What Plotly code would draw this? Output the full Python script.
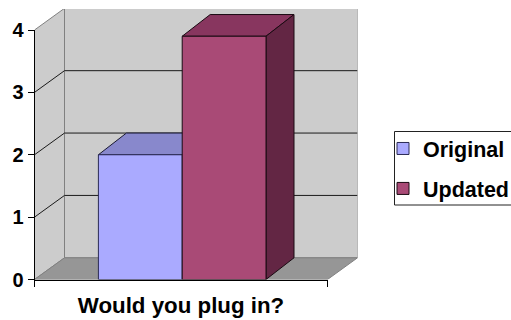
import plotly.graph_objects as go

categories = ["Would you plug in?"]
original = [2.0]
updated = [3.9]
y_ticks = [0, 1, 2, 3, 4]

W, H = 511, 320
FONT = "Liberation Sans"
# Front plane of the chart in page pixels
LEFT, RIGHT, BOTTOM, TOP = 34.5, 327.5, 279.5, 30.0
PX_X = RIGHT - LEFT            # pixels per category
PX_Y = (BOTTOM - TOP) / 4      # pixels per value unit
# Depth of the box and of the bars, in axis units
WALL_DX, WALL_DY = 30 / PX_X, 21.7 / PX_Y
BAR_DX, BAR_DY = 28 / PX_X, 21.7 / PX_Y
X0, X1 = -0.5, 0.5
BAR_W = 83.8 / PX_X
BAR_L = (98.4 - LEFT) / PX_X - 0.5
BAR_M = BAR_L + BAR_W
BAR_R = BAR_M + BAR_W
YMAX = max(y_ticks)


def poly(xs, ys, fill=None, line="#000000", width=1):
    return go.Scatter(
        x=xs, y=ys, mode="lines", hoverinfo="skip", showlegend=False,
        fill="toself" if fill else None, fillcolor=fill,
        line=dict(color=line, width=width), xaxis="x", yaxis="y",
    )


def box_top(left, right, value, fill, edge):
    return poly(
        [left, right, right + BAR_DX, left + BAR_DX, left],
        [value, value, value + BAR_DY, value + BAR_DY, value],
        fill, edge,
    )


def box_side(right, value, fill, edge):
    return poly(
        [right, right + BAR_DX, right + BAR_DX, right, right],
        [0, BAR_DY, value + BAR_DY, value, 0],
        fill, edge,
    )


traces = [
    # Side wall, back wall and floor
    poly([X0, X0 + WALL_DX, X0 + WALL_DX, X0, X0],
         [0, WALL_DY, YMAX + WALL_DY, YMAX, 0], "#CCCCCC", "#808080"),
    poly([X0 + WALL_DX, X1 + WALL_DX, X1 + WALL_DX, X0 + WALL_DX, X0 + WALL_DX],
         [WALL_DY, WALL_DY, YMAX + WALL_DY, YMAX + WALL_DY, WALL_DY], "#CCCCCC", "#808080"),
    poly([X0, X1, X1 + WALL_DX, X0 + WALL_DX, X0],
         [0, 0, WALL_DY, WALL_DY, 0], "#969696", "#808080"),
]

# Gridlines wrap from the side wall across the back wall
for tick in y_ticks[1:-1]:
    traces.append(poly([X0, X0 + WALL_DX, X1 + WALL_DX],
                       [tick, tick + WALL_DY, tick + WALL_DY], None, "#1A1A1A"))

traces += [
    box_top(BAR_L, BAR_M, original[0], "#8888CC", "#1A1A33"),
    box_top(BAR_M, BAR_R, updated[0], "#88365F", "#1A0A12"),
    box_side(BAR_R, updated[0], "#632644", "#1A0A12"),
]

# Front faces are real bars on the visible axes, stacked over the depth layer
traces += [
    go.Bar(name="Original", x=categories, y=original, width=[BAR_W], offset=[BAR_L],
           legendgroup="a",
           marker=dict(color="#AAAAFF", line=dict(color="#2A2A55", width=1)),
           xaxis="x2", yaxis="y2"),
    go.Bar(name="Updated", x=categories, y=updated, width=[BAR_W], offset=[BAR_M],
           legendgroup="b",
           marker=dict(color="#A94A76", line=dict(color="#1A0A12", width=1)),
           xaxis="x2", yaxis="y2"),
]

fig = go.Figure(traces)

depth_x_top = (RIGHT + 30 - LEFT) / PX_X + X0
depth_y_top = (BOTTOM - 9.0) / PX_Y

fig.update_layout(
    width=W, height=H, margin=dict(l=0, r=0, t=0, b=0, pad=0, autoexpand=False),
    paper_bgcolor="white", plot_bgcolor="rgba(0,0,0,0)",
    barmode="overlay", autosize=False,
    font=dict(family=FONT, color="#000000"),
    xaxis=dict(visible=False, range=[X0, depth_x_top], fixedrange=True, automargin=False,
               domain=[LEFT / W, (RIGHT + 30) / W]),
    yaxis=dict(visible=False, range=[0, depth_y_top], fixedrange=True, automargin=False,
               domain=[(H - BOTTOM) / H, (H - 9.0) / H]),
    xaxis2=dict(type="category", anchor="y2", range=[X0, X1], automargin=False,
                domain=[LEFT / W, RIGHT / W], tickson="boundaries",
                ticks="outside", ticklen=6, tickwidth=1, tickcolor="#000000",
                ticklabelstandoff=6,
                showline=True, linecolor="#000000", linewidth=1, showgrid=False,
                tickfont=dict(size=22.3, weight=700), fixedrange=True),
    yaxis2=dict(anchor="x2", range=[0, YMAX], tickvals=y_ticks, automargin=False,
                domain=[(H - BOTTOM) / H, (H - TOP) / H],
                ticks="outside", ticklen=6, tickwidth=1, tickcolor="#000000",
                showline=True, linecolor="#000000", linewidth=1, showgrid=False,
                zeroline=False, tickfont=dict(size=20, weight=700), fixedrange=True),
    legend=dict(x=383 / W, y=(H - 128) / H, xanchor="left", yanchor="top",
                bgcolor="rgba(0,0,0,0)", borderwidth=0,
                font=dict(size=21.5, weight=700), traceorder="grouped",
                tracegroupgap=9, itemclick=False, itemdoubleclick=False),
    shapes=[dict(type="rect", xref="paper", yref="paper",
                 x0=394.5 / W, x1=530 / W, y0=(H - 205) / H, y1=(H - 131.5) / H,
                 line=dict(color="#222222", width=1), fillcolor="white", layer="below")],
)

fig.write_html("out.html", config=dict(displayModeBar=False))
